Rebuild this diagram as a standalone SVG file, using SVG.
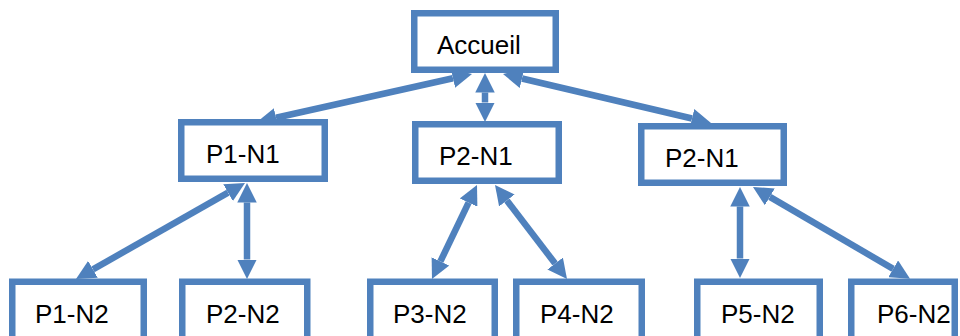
<svg xmlns="http://www.w3.org/2000/svg" width="960" height="336" viewBox="0 0 960 336">
  <style>
    .box { fill: #ffffff; stroke: #4f81bd; stroke-width: 6.5; }
    .lbl { font-family: "Liberation Sans", Arial, sans-serif; font-size: 26px; fill: #000000; }
    .link { stroke: #4f81bd; stroke-width: 6.5; fill: none; marker-start: url(#head); marker-end: url(#head); }
  </style>
  <defs>
    <!-- triangular arrowhead drawn beyond the line end, in stroke-width units -->
    <marker id="head" viewBox="0 0 3 3" refX="0" refY="1.5" markerWidth="3" markerHeight="3" markerUnits="strokeWidth" orient="auto-start-reverse">
      <path d="M0,0 L3,1.5 L0,3 z" fill="#4f81bd"/>
    </marker>
  </defs>
  <rect width="960" height="336" fill="#ffffff"/>

  <g id="connectors">
    <line class="link" x1="452.97" y1="78.25" x2="276.03" y2="117.75"/>
    <line class="link" x1="485" y1="92.5" x2="485" y2="102.5"/>
    <line class="link" x1="521.98" y1="78.47" x2="692.02" y2="118.53"/>
    <line class="link" x1="228.04" y1="192.63" x2="92.96" y2="269.37"/>
    <line class="link" x1="247" y1="202.5" x2="247" y2="259.5"/>
    <line class="link" x1="468.58" y1="202.59" x2="440.42" y2="261.41"/>
    <line class="link" x1="506.86" y1="200.48" x2="555.14" y2="263.52"/>
    <line class="link" x1="740" y1="206.5" x2="740" y2="258.5"/>
    <line class="link" x1="769.82" y1="196.86" x2="893.18" y2="268.86"/>
  </g>

  <g id="accueil">
    <rect class="box" x="414.25" y="13.25" width="141.5" height="56.5"/>
    <text class="lbl" x="437" y="54">Accueil</text>
  </g>
  <g id="p1-n1">
    <rect class="box" x="181.25" y="122.25" width="143.5" height="56.5"/>
    <text class="lbl" x="206" y="163">P1-N1</text>
  </g>
  <g id="p2-n1-a">
    <rect class="box" x="415.25" y="124.25" width="143.5" height="56.5"/>
    <text class="lbl" x="439" y="165">P2-N1</text>
  </g>
  <g id="p2-n1-b">
    <rect class="box" x="641.25" y="126.25" width="142.5" height="56.5"/>
    <text class="lbl" x="665" y="167">P2-N1</text>
  </g>
  <g id="p1-n2">
    <rect class="box" x="12.25" y="281.75" width="131.5" height="70"/>
    <text class="lbl" x="35" y="323">P1-N2</text>
  </g>
  <g id="p2-n2">
    <rect class="box" x="182.25" y="281.75" width="125" height="70"/>
    <text class="lbl" x="206" y="323">P2-N2</text>
  </g>
  <g id="p3-n2">
    <rect class="box" x="370.25" y="281.75" width="124.5" height="70"/>
    <text class="lbl" x="393" y="323">P3-N2</text>
  </g>
  <g id="p4-n2">
    <rect class="box" x="516.25" y="281.75" width="125.5" height="70"/>
    <text class="lbl" x="540" y="323">P4-N2</text>
  </g>
  <g id="p5-n2">
    <rect class="box" x="697.25" y="281.75" width="122.5" height="70"/>
    <text class="lbl" x="721" y="323">P5-N2</text>
  </g>
  <g id="p6-n2">
    <rect class="box" x="851.25" y="281.75" width="103.5" height="70"/>
    <text class="lbl" x="877" y="323">P6-N2</text>
  </g>
</svg>
